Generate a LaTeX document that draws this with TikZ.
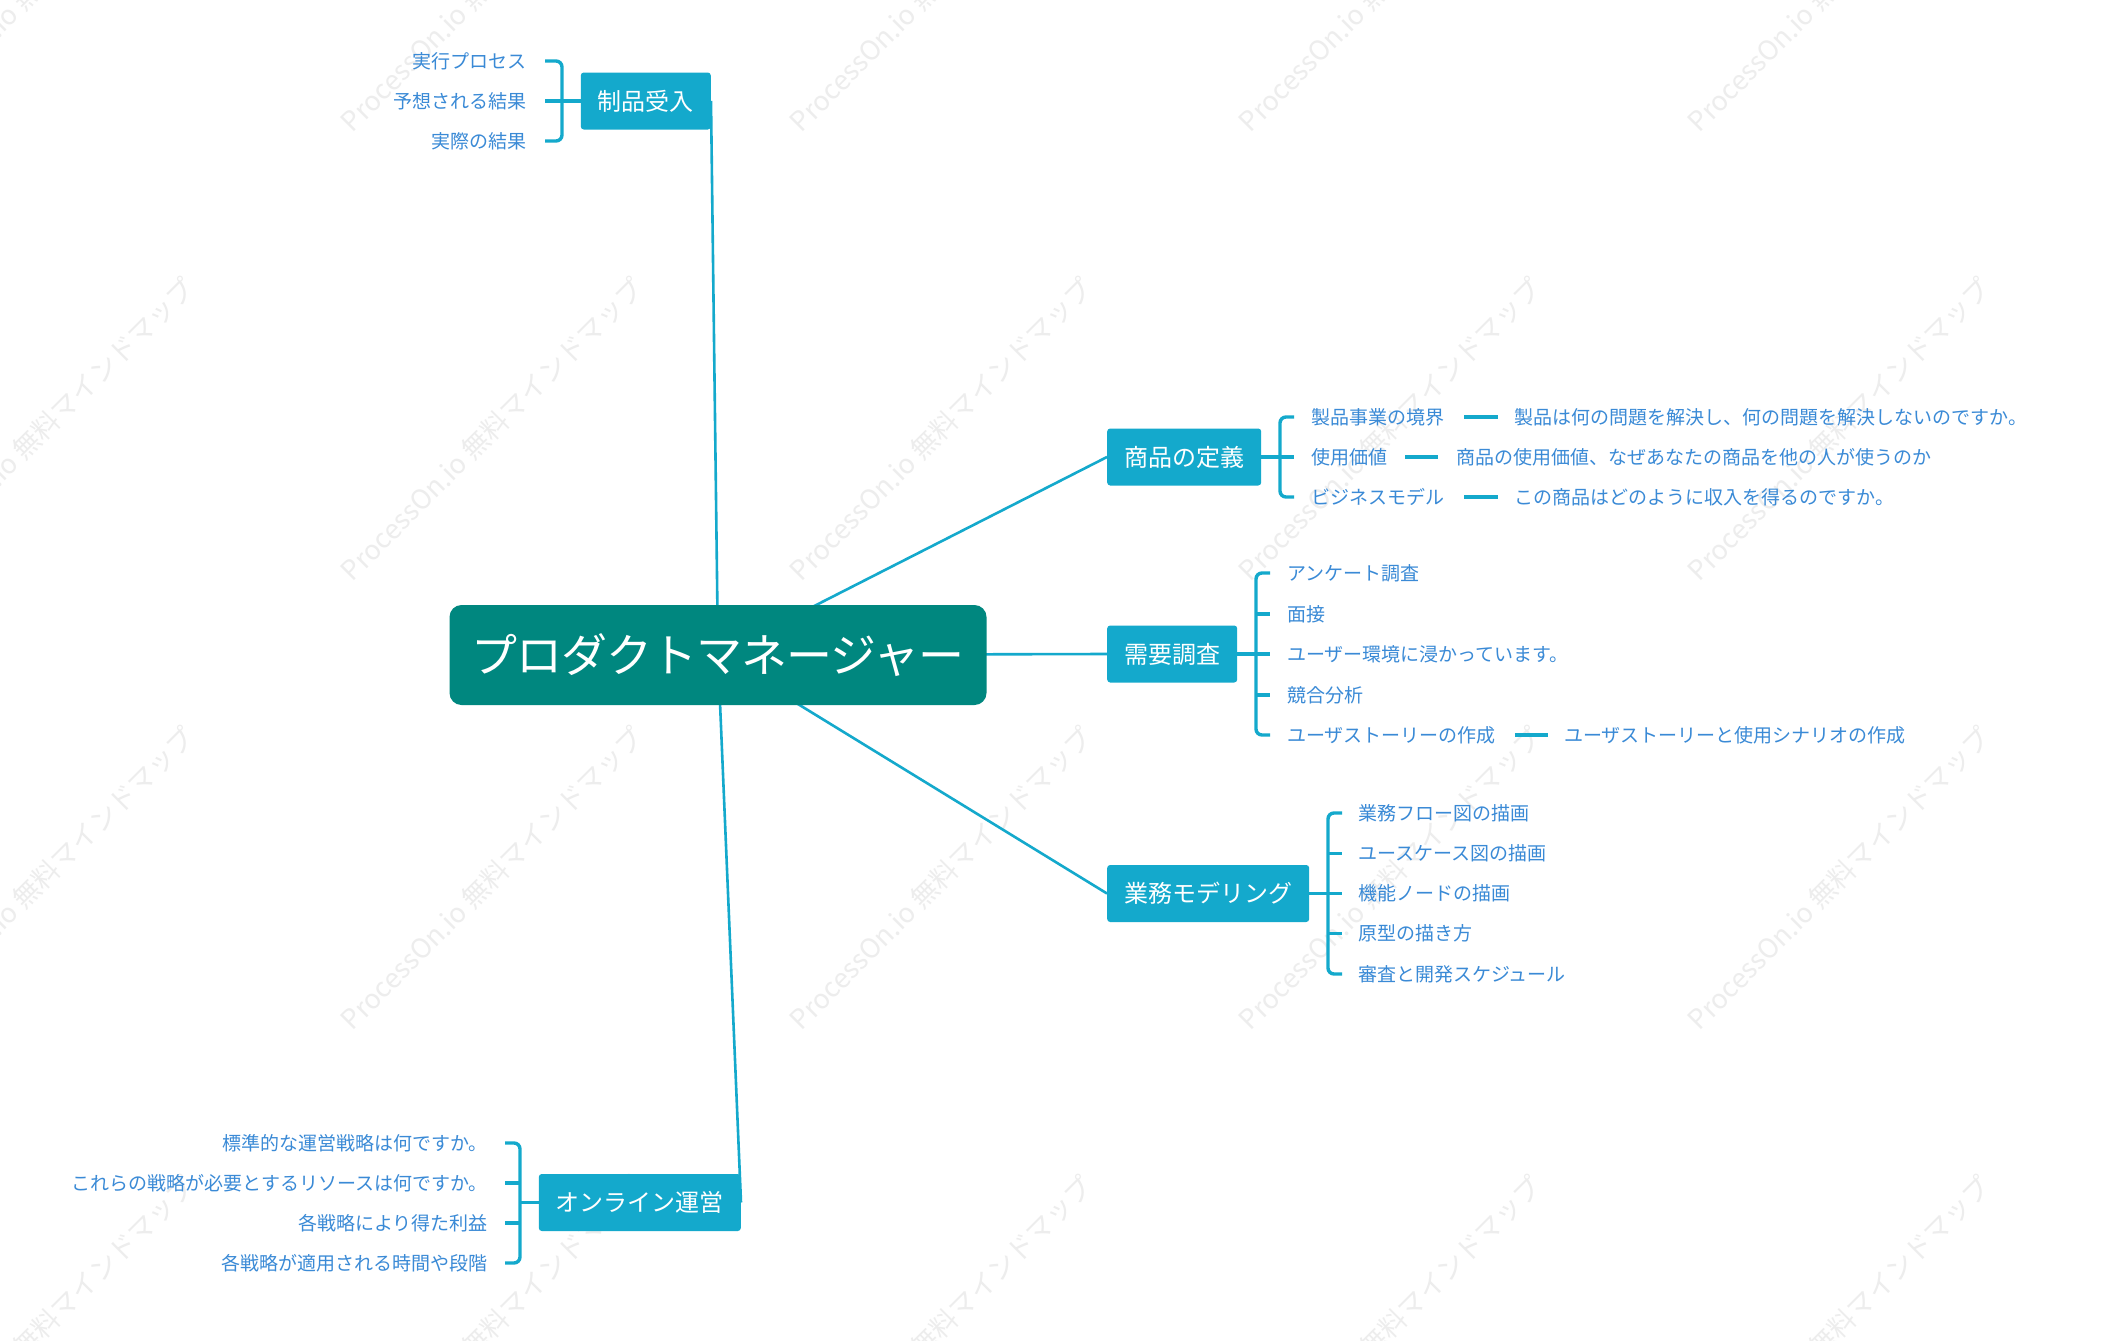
\documentclass[tikz,border=0pt]{standalone}
\usepackage{fontspec}
\setmainfont{Noto Sans CJK JP}
\newfontfamily\titlefont[LetterSpace=-2]{Noto Sans CJK JP}
\usetikzlibrary{positioning,backgrounds}
\definecolor{pmteal}{HTML}{00877F}
\definecolor{topicblue}{HTML}{14A9CC}
\definecolor{leafblue}{HTML}{3A8AD6}
\definecolor{markgray}{HTML}{EDEDED}
\newcommand{\wmark}{ProcessOn.io 無料マインドマップ}
\tikzset{
  root/.style={fill=pmteal, text=white, rounded corners=12pt, minimum width=537pt,
    minimum height=100pt, font=\titlefont\fontsize{46}{52}\selectfont},
  topic/.style={fill=topicblue, text=white, rounded corners=3pt, minimum height=57pt,
    inner xsep=17pt, inner ysep=0pt, font=\fontsize{24}{28}\selectfont},
  leaf/.style={text=leafblue, inner sep=0pt, font=\fontsize{19}{23}\selectfont},
  branch/.style={draw=topicblue, line width=2.6pt},
  dashline/.style={draw=topicblue, line width=3.6pt},
  bracket/.style={draw=topicblue, line width=3.4pt, rounded corners=6pt},
  watermark/.style={text=markgray, rotate=45, font=\fontsize{27}{30}\selectfont},
}

\begin{document}
\begin{tikzpicture}[x=1pt,y=-1pt]
  \useasboundingbox (0,0) rectangle (2102,1341);
  % main topic and its branches
  \node[root] (pm) at (718,655) {プロダクトマネージャー};
  \node[topic, anchor=east] (receive) at (711,101) {制品受入};
  \node[topic, anchor=west] (define) at (1107,457) {商品の定義};
  \node[topic, anchor=west] (survey) at (1107,654) {需要調査};
  \node[topic, anchor=west] (model) at (1107,893.5) {業務モデリング};
  \node[topic, anchor=east] (online) at (741,1202.5) {オンライン運営};

  \begin{scope}[on background layer]
    \fill[white] (0,0) rectangle (2102,1341);
    \begin{scope}
      \clip (0,0) rectangle (2102,1341);
      \foreach \wx in {43,492,941,1390,1839,2288}
        \foreach \wy in {-20,429,878,1327}
          \node[watermark] (wm-\wx-\wy) at (\wx,\wy) {\wmark};
    \end{scope}
    \draw[branch] (pm.center) -- (receive.east);
    \draw[branch] (pm.center) -- (define.west);
    \draw[branch] (pm.center) -- (survey.west);
    \draw[branch] (pm.center) -- (model.west);
    \draw[branch] (pm.center) -- (online.east);
  \end{scope}

  % 制品受入
  \node[leaf, anchor=east] (recv1) at (527,61) {実行プロセス};
  \node[leaf, anchor=east] (recv2) at (527,101) {予想される結果};
  \node[leaf, anchor=east] (recv3) at (527,141) {実際の結果};
  \draw[bracket] ([xshift=18pt]recv1.east) -- ([xshift=35pt]recv1.east)
    -- ([xshift=35pt]recv3.east) -- ([xshift=18pt]recv3.east);
  \draw[bracket] (receive.west) -- ([xshift=18pt]recv2.east);

  % 商品の定義
  \node[leaf, anchor=west] (def1) at (1311,417) {製品事業の境界};
  \node[leaf, anchor=west] (def2) at (1311,457) {使用価値};
  \node[leaf, anchor=west] (def3) at (1311,497) {ビジネスモデル};
  \node[leaf, right=70pt of def1] (def1d) {製品は何の問題を解決し、何の問題を解決しないのですか。};
  \node[leaf, right=69pt of def2] (def2d) {商品の使用価値、なぜあなたの商品を他の人が使うのか};
  \node[leaf, right=70pt of def3] (def3d) {この商品はどのように収入を得るのですか。};
  \draw[bracket] ([xshift=-17pt]def1.west) -- ([xshift=-31pt]def1.west)
    -- ([xshift=-31pt]def3.west) -- ([xshift=-17pt]def3.west);
  \draw[bracket] (define.east) -- ([xshift=-17pt]def2.west);
  \draw[dashline] ([xshift=20pt]def1.east) -- ([xshift=-16pt]def1d.west);
  \draw[dashline] ([xshift=18pt]def2.east) -- ([xshift=-18pt]def2d.west);
  \draw[dashline] ([xshift=20pt]def3.east) -- ([xshift=-16pt]def3d.west);

  % 需要調査
  \node[leaf, anchor=west] (sur1) at (1287,573) {アンケート調査};
  \node[leaf, anchor=west] (sur2) at (1287,614) {面接};
  \node[leaf, anchor=west] (sur3) at (1287,654) {ユーザー環境に浸かっています。};
  \node[leaf, anchor=west] (sur4) at (1287,695) {競合分析};
  \node[leaf, anchor=west] (sur5) at (1287,735) {ユーザストーリーの作成};
  \node[leaf, right=68pt of sur5] (sur5d) {ユーザストーリーと使用シナリオの作成};
  \draw[bracket] ([xshift=-17pt]sur1.west) -- ([xshift=-31pt]sur1.west)
    -- ([xshift=-31pt]sur5.west) -- ([xshift=-17pt]sur5.west);
  \draw[bracket] ([xshift=-31pt]sur2.west) -- ([xshift=-17pt]sur2.west);
  \draw[bracket] (survey.east) -- ([xshift=-17pt]sur3.west);
  \draw[bracket] ([xshift=-31pt]sur4.west) -- ([xshift=-17pt]sur4.west);
  \draw[dashline] ([xshift=19pt]sur5.east) -- ([xshift=-16pt]sur5d.west);

  % 業務モデリング
  \node[leaf, anchor=west] (mod1) at (1358,813) {業務フロー図の描画};
  \node[leaf, anchor=west] (mod2) at (1358,853.5) {ユースケース図の描画};
  \node[leaf, anchor=west] (mod3) at (1358,893.5) {機能ノードの描画};
  \node[leaf, anchor=west] (mod4) at (1358,933.5) {原型の描き方};
  \node[leaf, anchor=west] (mod5) at (1358,974) {審査と開発スケジュール};
  \draw[bracket] ([xshift=-16pt]mod1.west) -- ([xshift=-30pt]mod1.west)
    -- ([xshift=-30pt]mod5.west) -- ([xshift=-16pt]mod5.west);
  \draw[bracket] ([xshift=-30pt]mod2.west) -- ([xshift=-16pt]mod2.west);
  \draw[bracket] (model.east) -- ([xshift=-16pt]mod3.west);
  \draw[bracket] ([xshift=-30pt]mod4.west) -- ([xshift=-16pt]mod4.west);

  % オンライン運営
  \node[leaf, anchor=east] (onl1) at (488,1143) {標準的な運営戦略は何ですか。};
  \node[leaf, anchor=east] (onl2) at (488,1183) {これらの戦略が必要とするリソースは何ですか。};
  \node[leaf, anchor=east] (onl3) at (488,1223) {各戦略により得た利益};
  \node[leaf, anchor=east] (onl4) at (488,1263) {各戦略が適用される時間や段階};
  \draw[bracket] ([xshift=17pt]onl1.east) -- ([xshift=32pt]onl1.east)
    -- ([xshift=32pt]onl4.east) -- ([xshift=17pt]onl4.east);
  \draw[bracket] ([xshift=17pt]onl2.east) -- ([xshift=32pt]onl2.east);
  \draw[bracket] ([xshift=17pt]onl3.east) -- ([xshift=32pt]onl3.east);
  \draw[bracket] (online.west) -- ++(-20,0);
\end{tikzpicture}
\end{document}
